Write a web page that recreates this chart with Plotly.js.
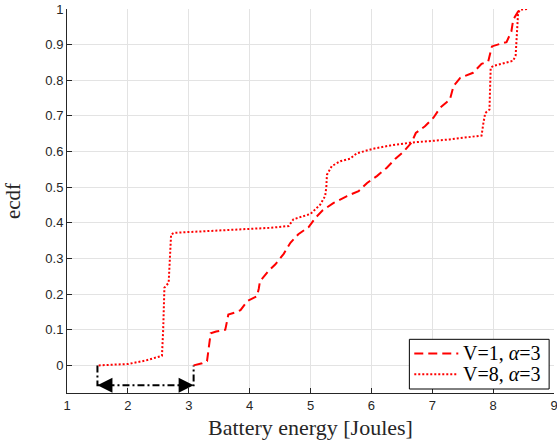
<!DOCTYPE html>
<html>
<head>
<meta charset="utf-8">
<script src="https://cdn.plot.ly/plotly-3.0.1.min.js"></script>
<style>html,body{margin:0;padding:0;background:#fff;}#chart{width:557px;height:442px;}</style>
</head>
<body>
<div id="chart"></div>
<script>
// V=1, alpha=3 (dashed)
const v1X = [3.08, 3.22, 3.30, 3.33, 3.36, 3.45, 3.60, 3.63, 3.65, 3.79, 3.85, 3.96, 4.12, 4.15, 4.17, 4.31, 4.42, 4.56, 4.67, 4.80, 4.97, 5.08, 5.20, 5.38, 5.60, 5.79, 5.93, 6.09, 6.25, 6.39, 6.53, 6.66, 6.73, 6.88, 7.02, 7.13, 7.29, 7.35, 7.46, 7.67, 7.81, 7.92, 7.98, 8.11, 8.22, 8.30, 8.33, 8.41, 8.50];
const v1Y = [0.0, 0.006, 0.012, 0.05, 0.090, 0.095, 0.100, 0.125, 0.143, 0.150, 0.155, 0.180, 0.194, 0.215, 0.236, 0.265, 0.283, 0.313, 0.344, 0.368, 0.388, 0.414, 0.435, 0.456, 0.475, 0.489, 0.512, 0.531, 0.554, 0.579, 0.600, 0.625, 0.652, 0.671, 0.695, 0.723, 0.746, 0.784, 0.807, 0.821, 0.846, 0.853, 0.895, 0.902, 0.907, 0.937, 0.970, 0.993, 1.0];
// V=8, alpha=3 (dotted)
const v8X = [1.52, 2.01, 2.30, 2.56, 2.58, 2.60, 2.67, 2.69, 2.71, 2.76, 3.00, 3.50, 3.96, 4.34, 4.64, 4.72, 5.00, 5.16, 5.24, 5.26, 5.27, 5.35, 5.49, 5.65, 5.76, 6.03, 6.31, 6.64, 7.29, 7.81, 7.84, 7.87, 7.94, 7.95, 7.96, 8.00, 8.33, 8.37, 8.39, 8.41, 8.44, 8.58];
const v8Y = [0.0, 0.004, 0.014, 0.027, 0.10, 0.218, 0.232, 0.30, 0.367, 0.372, 0.374, 0.378, 0.381, 0.386, 0.391, 0.410, 0.425, 0.451, 0.475, 0.50, 0.535, 0.559, 0.573, 0.580, 0.595, 0.608, 0.617, 0.625, 0.634, 0.645, 0.680, 0.708, 0.718, 0.780, 0.835, 0.840, 0.855, 0.870, 0.930, 0.988, 0.998, 1.0];
// gap marker (dash-dot bracket with double arrow)
const gapX = [1.5, 1.5, 3.08, 3.08];
const gapY = [0, -0.056, -0.056, 0];
const xTicks = [1, 2, 3, 4, 5, 6, 7, 8, 9];
const yTicks = [0, 0.1, 0.2, 0.3, 0.4, 0.5, 0.6, 0.7, 0.8, 0.9, 1];
const yTickText = ['0', '0.1', '0.2', '0.3', '0.4', '0.5', '0.6', '0.7', '0.8', '0.9', '1'];
const seriesNames = ['V=1, <i>α</i>=3', 'V=8, <i>α</i>=3'];

const serif = 'Liberation Serif, DejaVu Serif, serif';
const sans = 'Liberation Sans, Arial, sans-serif';
const axCol = '#262626';
const red = '#ff0000';
const dashV1 = '9px,5px';
const dashV8 = '2px,2px';

const traces = [
  {x: gapX, y: gapY, mode: 'lines', line: {color: '#000', width: 2, dash: '7px,3px,2px,3px'}, showlegend: false, hoverinfo: 'skip'},
  {x: v1X, y: v1Y, mode: 'lines', name: seriesNames[0], showlegend: false, line: {color: red, width: 2, dash: dashV1}},
  {x: v8X, y: v8Y, mode: 'lines', name: seriesNames[1], showlegend: false, line: {color: red, width: 2, dash: dashV8}}
];

// legend box (paper coordinates), drawn with shapes + annotations
const lg = {x0: 0.703, x1: 0.990, y0: 0.0104, y1: 0.1398, rows: [0.1031, 0.0487], sx0: 0.7131, sx1: 0.8035, tx: 0.8095};
const legendShapes = [
  {type: 'rect', xref: 'paper', yref: 'paper', x0: lg.x0, x1: lg.x1, y0: lg.y0, y1: lg.y1, fillcolor: '#fff', line: {color: '#000', width: 1}, layer: 'above'},
  {type: 'line', xref: 'paper', yref: 'paper', x0: lg.sx0, x1: lg.sx1, y0: lg.rows[0], y1: lg.rows[0], line: {color: red, width: 2, dash: dashV1}, layer: 'above'},
  {type: 'line', xref: 'paper', yref: 'paper', x0: lg.sx0, x1: lg.sx1, y0: lg.rows[1], y1: lg.rows[1], line: {color: red, width: 2, dash: dashV8}, layer: 'above'}
];
const legendTexts = seriesNames.map((t, i) => ({
  x: lg.tx, y: lg.rows[i], xref: 'paper', yref: 'paper', xanchor: 'left', yanchor: 'middle', showarrow: false,
  text: t, font: {family: serif, size: 20, color: '#000'}
}));

const layout = {
  width: 557, height: 442,
  margin: {l: 67, r: 3, t: 9, b: 49},
  paper_bgcolor: '#fff', plot_bgcolor: '#fff',
  showlegend: false,
  xaxis: {range: [1, 9], tickvals: xTicks, ticktext: xTicks.map(String), ticks: 'inside', ticklen: 5, tickcolor: axCol,
          showgrid: true, gridcolor: '#e3e3e3', gridwidth: 1, zeroline: false, showline: true, linecolor: axCol, linewidth: 1,
          ticklabeloverflow: 'allow',
          tickfont: {family: sans, size: 13, color: axCol},
          title: {text: 'Battery energy [Joules]', font: {family: serif, size: 22, color: axCol}, standoff: 8}},
  yaxis: {range: [-0.0775, 1], tickvals: yTicks, ticktext: yTickText, ticks: 'inside', ticklen: 5, tickcolor: axCol,
          showgrid: true, gridcolor: '#e3e3e3', gridwidth: 1, zeroline: false, showline: true, linecolor: axCol, linewidth: 1,
          ticklabeloverflow: 'allow',
          tickfont: {family: sans, size: 13, color: axCol},
          title: {text: 'ecdf', font: {family: serif, size: 21, color: axCol}, standoff: 18}},
  shapes: legendShapes,
  annotations: [
    {x: gapX[0], y: gapY[1], xref: 'x', yref: 'y', ax: 13, ay: 0, text: '', showarrow: true, arrowhead: 2, arrowsize: 2.0, arrowwidth: 1.5, arrowcolor: '#000'},
    {x: gapX[2], y: gapY[2], xref: 'x', yref: 'y', ax: -13, ay: 0, text: '', showarrow: true, arrowhead: 2, arrowsize: 2.0, arrowwidth: 1.5, arrowcolor: '#000'}
  ].concat(legendTexts)
};

Plotly.newPlot('chart', traces, layout, {displayModeBar: false, staticPlot: true});
</script>
</body>
</html>
